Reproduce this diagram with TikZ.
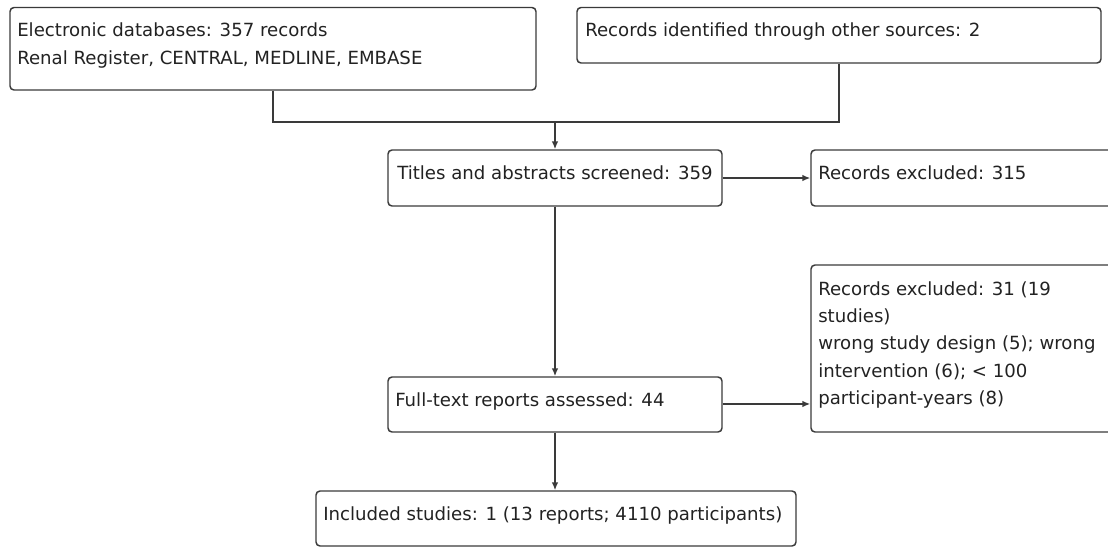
\documentclass[tikz,border=0pt]{standalone}
\usepackage{fontspec}
\setmainfont{DejaVu Sans}
\usetikzlibrary{arrows.meta,calc,fit}
\definecolor{linegray}{HTML}{3A3A3A}
\definecolor{textgray}{HTML}{222222}
\tikzset{flow box/.style={draw=linegray,line width=1.1pt,rounded corners=3pt,inner sep=0pt},
box text/.style={anchor=north west,inner sep=0pt,align=left,text=textgray,font=\fontsize{13.6pt}{20.6pt}\selectfont},
flow line/.style={draw=linegray,line width=1.1pt},
flow arrow/.style={flow line,-{Latex[length=6pt,width=5pt]}}}

\begin{document}
\begin{tikzpicture}[x=0.75pt,y=-0.75pt]
\useasboundingbox (0,0) rectangle (1108,547);
\clip (0,0) rectangle (1108,547);

%% Corners of the boxes (pixels, y downwards).
\coordinate (db nw) at (10,7.5);
\coordinate (db se) at (536,90);
\coordinate (other nw) at (577,7.5);
\coordinate (other se) at (1101,63);
\coordinate (screen nw) at (388,150);
\coordinate (screen se) at (722,206);
\coordinate (excl1 nw) at (811,150);
\coordinate (excl1 se) at (1145,206);
\coordinate (excl2 nw) at (811,265);
\coordinate (excl2 se) at (1145,432);
\coordinate (full nw) at (388,377);
\coordinate (full se) at (722,432);
\coordinate (incl nw) at (316,491);
\coordinate (incl se) at (796,546);
\coordinate (merge) at (555,122);

%% boxes
\node [flow box,fit=(db nw)(db se)] (db) {};
\node [flow box,fit=(other nw)(other se)] (other) {};
\node [flow box,fit=(screen nw)(screen se)] (screen) {};
\node [flow box,fit=(excl1 nw)(excl1 se)] (excl1) {};
\node [flow box,fit=(excl2 nw)(excl2 se)] (excl2) {};
\node [flow box,fit=(full nw)(full se)] (full) {};
\node [flow box,fit=(incl nw)(incl se)] (incl) {};

%% box texts
\node [box text] (db text) at ($(db nw)+(7,15)$) {Electronic databases: 357 records\\Renal Register, CENTRAL, MEDLINE, EMBASE};
\node [box text] (other text) at ($(other nw)+(8,15)$) {Records identified through other sources: 2};
\node [box text] (screen text) at ($(screen nw)+(9,15)$) {Titles and abstracts screened: 359};
\node [box text] (excl1 text) at ($(excl1 nw)+(7,15)$) {Records excluded: 315};
\node [box text] (excl2 text) at ($(excl2 nw)+(7,16)$) {Records excluded: 31 (19\\studies)\\wrong study design (5); wrong\\intervention (6); < 100\\participant-years (8)};
\node [box text] (full text) at ($(full nw)+(7,15)$) {Full-text reports assessed: 44};
\node [box text] (incl text) at ($(incl nw)+(7,15)$) {Included studies: 1 (13 reports; 4110 participants)};

%% connectors
\draw [flow line] (db.south) |- (merge) -| (other.south);
\draw [flow arrow] (merge) -- (screen.north);
\draw [flow arrow] (screen.east) -- (excl1.west);
\draw [flow arrow] (screen.south) -- (full.north);
\draw [flow arrow] ([yshift=0.4pt]full.east) -- ([yshift=0.4pt]full.east -| excl2.west);
\draw [flow arrow] (full.south) -- (full.south |- incl.north);

\end{tikzpicture}
\end{document}
